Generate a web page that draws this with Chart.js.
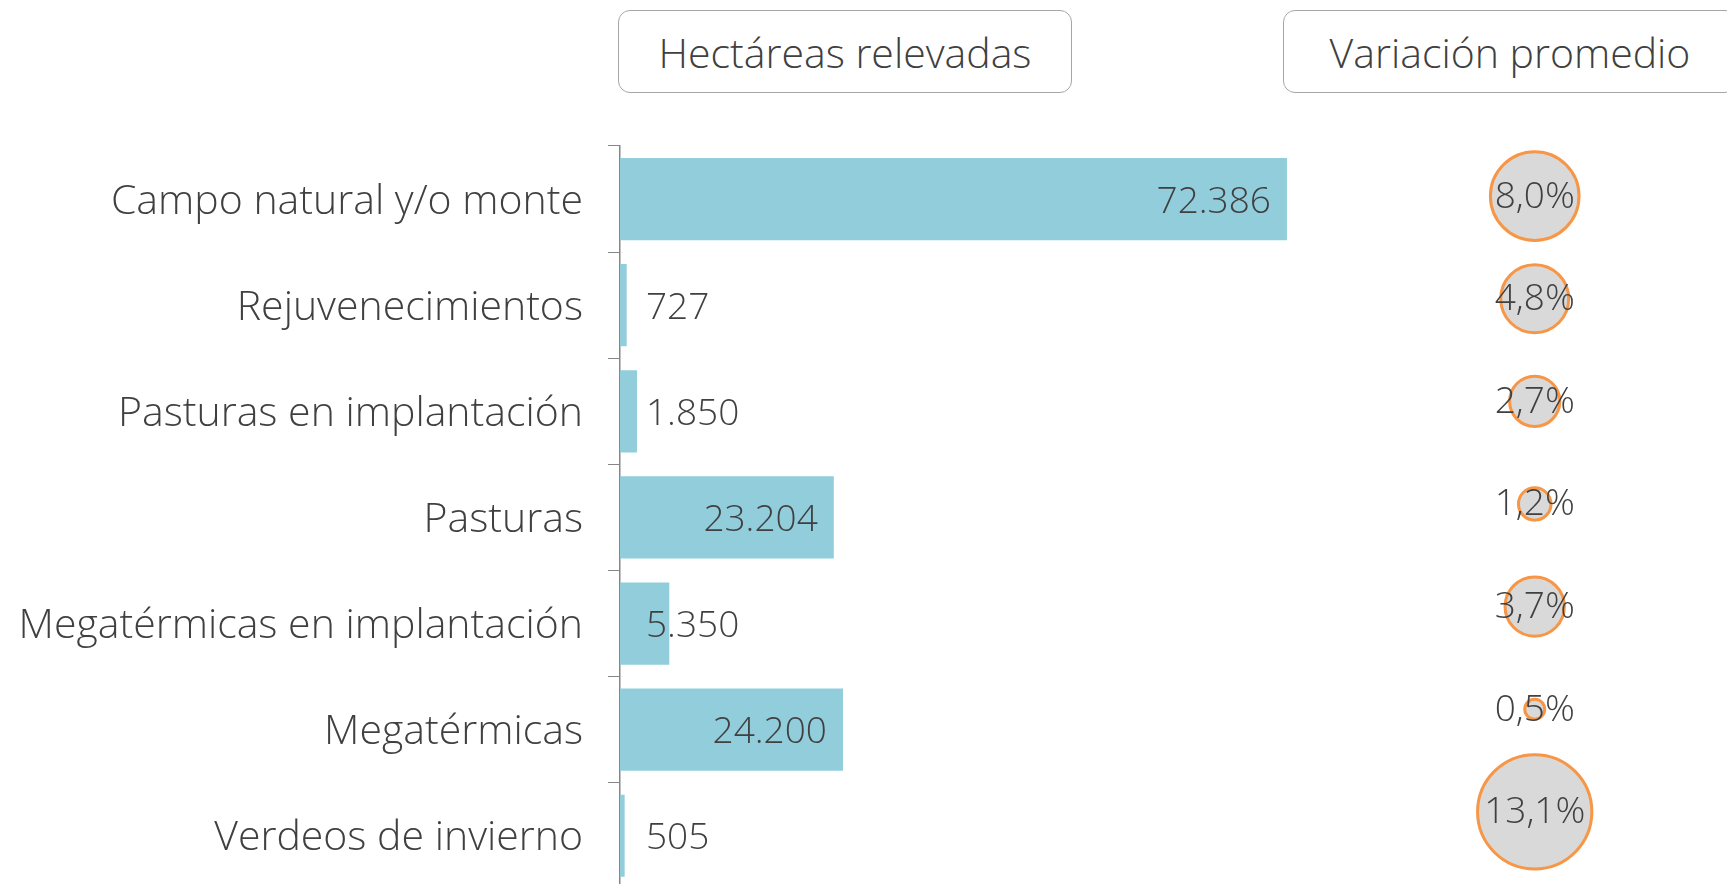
<!DOCTYPE html>
<html>
<head>
<meta charset="utf-8">
<script src="https://cdn.jsdelivr.net/npm/chart.js@4"></script>
<style>
  html, body { margin: 0; padding: 0; background: #fff; overflow: hidden; }
  #wrap { position: absolute; left: 0; top: 0; width: 1788px; height: 949px; }
  #wrap canvas { display: block; }
  .hdr {
    position: absolute; top: 10px; height: 83px; box-sizing: border-box;
    border: 1.5px solid #a6a6a6; border-radius: 12px; background: #fff;
    display: flex; align-items: center; justify-content: center;
    font-family: 'Open Sans', sans-serif; font-weight: 300; font-size: 41px; color: #404040;
  }
</style>
</head>
<body>
<div id="wrap">
  <!-- canvas is larger than the window: the bubble overflow padding falls outside the view -->
  <canvas id="chart" width="1788" height="949"></canvas>
</div>
<div class="hdr" style="left:618px; width:454px;">Hectáreas relevadas</div>
<div class="hdr" style="left:1283px; width:454px;">Variación promedio</div>
<script>
// Data
const categories = [
    'Campo natural y/o monte',
    'Rejuvenecimientos',
    'Pasturas en implantación',
    'Pasturas',
    'Megatérmicas en implantación',
    'Megatérmicas',
    'Verdeos de invierno'
];
const hectareas = [72386, 727, 1850, 23204, 5350, 24200, 505];
const variacion = [8.0, 4.8, 2.7, 1.2, 3.7, 0.5, 13.1];

const FONT_FAMILY = "'Open Sans', sans-serif";
const VALUE_FONT = "300 37px " + FONT_FAMILY;
const TEXT = '#404040';
const AXIS = '#868686';

function fmtHa(v) {
    return String(v).replace(/\B(?=(\d{3})+(?!\d))/g, '.');
}
function fmtPct(v) {
    return v.toFixed(1).replace('.', ',') + '%';
}

// Draw value labels on bars and bubbles
const valueLabels = {
    id: 'valueLabels',
    afterDatasetsDraw(chart) {
        const ctx = chart.ctx;
        ctx.save();
        ctx.font = VALUE_FONT;
        ctx.fillStyle = TEXT;
        ctx.textBaseline = 'middle';

        chart.getDatasetMeta(0).data.forEach((bar, i) => {
            const txt = fmtHa(hectareas[i]);
            const w = ctx.measureText(txt).width;
            if (bar.x - bar.base > w + 40) {
                ctx.textAlign = 'right';
                ctx.fillText(txt, bar.x - 16, bar.y + 3);
            } else {
                ctx.textAlign = 'left';
                ctx.fillText(txt, bar.base + 26, bar.y + 3);
            }
        });

        ctx.textAlign = 'center';
        chart.getDatasetMeta(1).data.forEach((pt, i) => {
            ctx.fillText(fmtPct(variacion[i]), pt.x, pt.y + 1);
        });
        ctx.restore();
    }
};

new Chart(document.getElementById('chart'), {
    type: 'bar',
    data: {
        labels: categories,
        datasets: [
            {
                type: 'bar',
                data: hectareas,
                xAxisID: 'x',
                yAxisID: 'y',
                backgroundColor: '#92cddc',
                grouped: false,
                barPercentage: 0.774,
                categoryPercentage: 1
            },
            {
                type: 'bubble',
                data: variacion.map((v, i) => ({ x: 0, y: i })),
                xAxisID: 'xb',
                yAxisID: 'yb',
                backgroundColor: '#d9d9d9',
                borderColor: '#f79646',
                borderWidth: 3,
                radius: ctx => 16.2 * Math.sqrt(variacion[ctx.dataIndex]) - 1.5,
                clip: false
            }
        ]
    },
    options: {
        indexAxis: 'y',
        responsive: false,
        animation: false,
        events: [],
        layout: { padding: { top: 146, bottom: 4, left: 0, right: 0 } },
        plugins: {
            legend: { display: false },
            tooltip: { enabled: false }
        },
        scales: {
            x: {
                type: 'linear',
                axis: 'x',
                display: false,
                offset: false,
                grid: { offset: false },
                min: 0,
                max: 120240
            },
            xb: {
                type: 'linear',
                axis: 'x',
                display: false,
                offset: false,
                grid: { offset: false },
                min: -4.736,
                max: 1
            },
            y: {
                type: 'category',
                axis: 'y',
                offset: true,
                grid: {
                    offset: true,
                    drawOnChartArea: false,
                    drawTicks: true,
                    tickLength: 12,
                    color: AXIS
                },
                border: { color: AXIS, width: 1.5 },
                ticks: {
                    color: TEXT,
                    padding: 25,
                    labelOffset: 3,
                    font: { family: FONT_FAMILY, size: 41, weight: 300 }
                },
                afterFit: scale => { scale.width = 620; }
            },
            yb: {
                type: 'linear',
                axis: 'y',
                display: false,
                offset: false,
                grid: { offset: false },
                reverse: true,
                min: -0.4878,
                max: 6.751
            }
        }
    },
    plugins: [valueLabels]
});
</script>
</body>
</html>
